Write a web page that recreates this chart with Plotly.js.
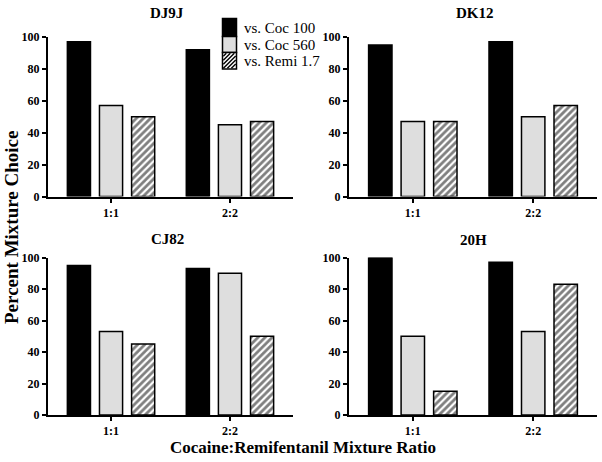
<!DOCTYPE html>
<html>
<head>
<meta charset="utf-8">
<script src="https://cdn.plot.ly/plotly-3.0.1.min.js"></script>
<style>html,body{margin:0;padding:0;background:#fff;}#chart{width:602px;height:462px;}</style>
</head>
<body>
<div id="chart"></div>
<script>
const categories = ['1:1', '2:2'];
const seriesNames = ['vs. Coc 100', 'vs. Coc 560', 'vs. Remi 1.7'];
const panelTitles = ['DJ9J', 'DK12', 'CJ82', '20H'];

const dj9jCoc100 = [97, 92];
const dj9jCoc560 = [57, 45];
const dj9jRemi = [50, 47];

const dk12Coc100 = [95, 97];
const dk12Coc560 = [47, 50];
const dk12Remi = [47, 57];

const cj82Coc100 = [95, 93];
const cj82Coc560 = [53, 90];
const cj82Remi = [45, 50];

const h20Coc100 = [100, 97];
const h20Coc560 = [50, 53];
const h20Remi = [15, 83];

const yTickVals = [0, 20, 40, 60, 80, 100];

const panels = [
  [dj9jCoc100, dj9jCoc560, dj9jRemi],
  [dk12Coc100, dk12Coc560, dk12Remi],
  [cj82Coc100, cj82Coc560, cj82Remi],
  [h20Coc100, h20Coc560, h20Remi]
];

const W = 602, H = 462;
const FONT = '"Liberation Serif", "Times New Roman", Times, serif';
const GRAY = '#dedede';

const styles = [
  {color: '#000000', pattern: {shape: ''}},
  {color: GRAY, pattern: {shape: ''}},
  {color: '#ffffff', pattern: {shape: '/', fgcolor: '#000000', bgcolor: '#ffffff', size: 5, solidity: 0.55, fillmode: 'overlay'}}
];

const data = [];
panels.forEach((series, p) => {
  const sfx = p === 0 ? '' : String(p + 1);
  series.forEach((vals, s) => {
    data.push({
      type: 'bar',
      x: categories,
      y: vals,
      name: seriesNames[s],
      showlegend: false,
      xaxis: 'x' + sfx,
      yaxis: 'y' + sfx,
      marker: {
        color: styles[s].color,
        pattern: styles[s].pattern,
        line: {color: '#000000', width: 1.5}
      },
      hoverinfo: 'none'
    });
  });
});

// pixel helpers
function px(x) { return x / W; }
function py(y) { return 1 - y / H; }

const colsPx = [[48, 293], [349, 597]];
const rowsPx = [[37, 196.5], [257.5, 415]];
function xd(c) { return [px(colsPx[c][0]), px(colsPx[c][1])]; }
function yd(r) { return [py(rowsPx[r][1]), py(rowsPx[r][0])]; }

const layout = {
  width: W, height: H,
  margin: {l: 0, r: 0, t: 0, b: 0},
  paper_bgcolor: '#ffffff',
  plot_bgcolor: 'rgba(0,0,0,0)',
  barmode: 'group',
  bargap: 0.19,
  bargroupgap: 0.28,
  font: {family: FONT, color: '#000000'},
  showlegend: false,
  annotations: [],
  shapes: []
};

for (let p = 0; p < 4; p++) {
  const sfx = p === 0 ? '' : String(p + 1);
  const c = p % 2, r = Math.floor(p / 2);
  layout['xaxis' + sfx] = {
    domain: xd(c),
    anchor: 'y' + sfx,
    type: 'category',
    range: [-0.53, 1.53],
    showline: true, linewidth: 2, linecolor: '#000',
    ticks: 'outside', ticklen: 4, tickwidth: 2, tickcolor: '#000',
    showgrid: false, zeroline: false,
    tickfont: {family: FONT, size: 12, color: '#000', weight: 'bold'},
    automargin: false, fixedrange: true
  };
  layout['yaxis' + sfx] = {
    domain: yd(r),
    anchor: 'x' + sfx,
    range: [0, 100],
    tickvals: yTickVals,
    showline: true, linewidth: 2, linecolor: '#000',
    ticks: 'outside', ticklen: 4, tickwidth: 2, tickcolor: '#000',
    showgrid: false, zeroline: false,
    tickfont: {family: FONT, size: 12, color: '#000', weight: 'bold'},
    automargin: false, fixedrange: true
  };
}

const titlePos = [[167, 13], [475, 13], [167, 239], [473, 240]];
panelTitles.forEach((t, i) => {
  layout.annotations.push({
    text: '<b>' + t + '</b>', xref: 'paper', yref: 'paper',
    x: px(titlePos[i][0]), y: py(titlePos[i][1]),
    xanchor: 'center', yanchor: 'middle', showarrow: false,
    font: {family: FONT, size: 15, color: '#000'}
  });
});
layout.annotations.push({
  text: '<b>Percent Mixture Choice</b>', xref: 'paper', yref: 'paper',
  x: px(12), y: py(228), xanchor: 'center', yanchor: 'middle',
  textangle: -90, showarrow: false,
  font: {family: FONT, size: 19, color: '#000'}
});
layout.annotations.push({
  text: '<b>Cocaine:Remifentanil Mixture Ratio</b>', xref: 'paper', yref: 'paper',
  x: px(303), y: py(447), xanchor: 'center', yanchor: 'middle',
  showarrow: false,
  font: {family: FONT, size: 17, color: '#000'}
});

// custom legend: stacked swatches
const legX0 = 222.5, legX1 = 236.5;
const legRows = [[18.5, 36.5], [36.5, 52.5], [52.5, 69]];
const legFills = ['#000000', GRAY, '#ffffff'];
legRows.forEach((rw, i) => {
  layout.shapes.push({
    type: 'rect', xref: 'paper', yref: 'paper',
    x0: px(legX0), x1: px(legX1), y0: py(rw[1]), y1: py(rw[0]),
    fillcolor: legFills[i], line: {color: '#000', width: 1.5}, layer: 'above'
  });
  layout.annotations.push({
    text: seriesNames[i], xref: 'paper', yref: 'paper',
    x: px(242), y: py((rw[0] + rw[1]) / 2 + 0.5), xanchor: 'left', yanchor: 'middle',
    showarrow: false, font: {family: FONT, size: 15, color: '#000'}
  });
});
// hatch lines in the third swatch
(function () {
  const x0 = legX0 + 0.8, x1 = legX1 - 0.8, y0 = legRows[2][0] + 0.8, y1 = legRows[2][1] - 0.8;
  for (let c = x0 + y0 + 3; c < x1 + y1 - 0.5; c += 4) {
    const xa = Math.max(x0, c - y1), xb = Math.min(x1, c - y0);
    if (xb - xa < 0.5) continue;
    layout.shapes.push({
      type: 'line', xref: 'paper', yref: 'paper',
      x0: px(xa), y0: py(c - xa), x1: px(xb), y1: py(c - xb),
      line: {color: '#000', width: 1.4}, layer: 'above'
    });
  }
})();

Plotly.newPlot('chart', data, layout, {displayModeBar: false, staticPlot: true});
</script>
</body>
</html>
